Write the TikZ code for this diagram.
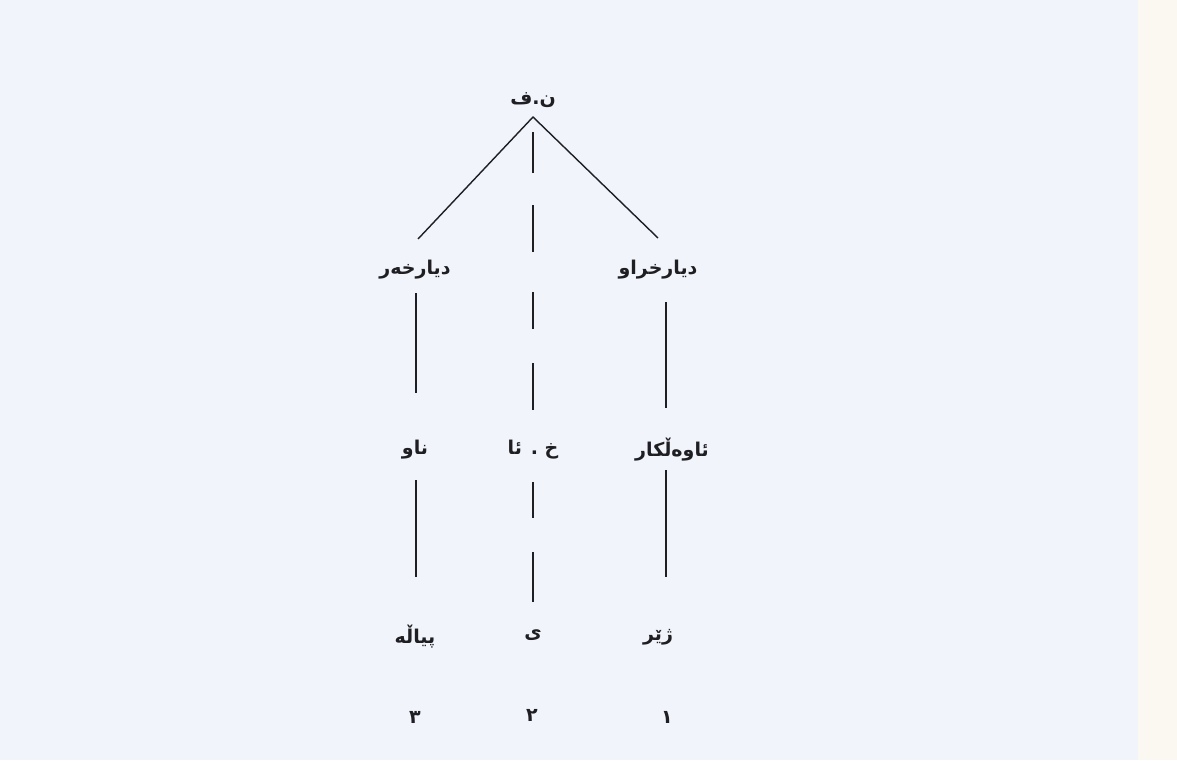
\documentclass[tikz,border=0pt]{standalone}
\usepackage{fontspec}
\newfontfamily\arabicfont[Script=Arabic]{DejaVu Sans}
\TeXXeTstate=1
\definecolor{bgblue}{RGB}{241,244,251}
\definecolor{cream}{RGB}{250,248,240}
\definecolor{ink}{RGB}{30,30,35}
\begin{document}
\begin{tikzpicture}[x=1pt,y=-1pt,
  lbl/.style={font=\arabicfont\bfseries\fontsize{19}{22}\selectfont, inner sep=0pt, text=ink},
  ln/.style={line width=1.4pt, draw=ink}]
\fill[bgblue] (0,0) rectangle (1177,760);
\fill[cream] (1138,0) rectangle (1177,760);
\useasboundingbox (0,0) rectangle (1177,760);

% nodes
\node[lbl] (fn) at (533,100) {\beginR ن.ف\endR};
\node[lbl] (dkhr) at (415,270) {\beginR دیارخەر\endR};
\node[lbl] (dkhraw) at (658,270) {\beginR دیارخراو\endR};
\node[lbl] (naw) at (415,450) {\beginR ناو\endR};
\node[lbl] (akh) at (533,450) {\beginR خ . ئا\endR};
\node[lbl] (awelkar) at (672,450) {\beginR ئاوەڵکار\endR};
\node[lbl] (piyale) at (415,637) {\beginR پیاڵە\endR};
\node[lbl] (ye) at (533,635) {\beginR ی\endR};
\node[lbl] (zher) at (658,637) {\beginR ژێر\endR};
\node[lbl] (n3) at (415,717) {\beginR ٣\endR};
\node[lbl] (n2) at (532,715) {\beginR ٢\endR};
\node[lbl] (n1) at (667,717) {\beginR ١\endR};

% connector ends
\coordinate (apex) at (533,117);
\coordinate (lend) at (418,239);
\coordinate (rend) at (658,238);
\coordinate (l1t) at (416,293);
\coordinate (l1b) at (416,393);
\coordinate (l2t) at (416,480);
\coordinate (l2b) at (416,577);
\coordinate (r1t) at (666,302);
\coordinate (r1b) at (666,408);
\coordinate (r2t) at (666,470);
\coordinate (r2b) at (666,577);
\coordinate (m1t) at (533,132);
\coordinate (m1b) at (533,410);
\coordinate (m2t) at (533,482);
\coordinate (m2b) at (533,602);

% connectors
\draw[ln] (lend) -- (apex) -- (rend);
\draw[ln] (l1t) -- (l1b);
\draw[ln] (l2t) -- (l2b);
\draw[ln] (r1t) -- (r1b);
\draw[ln] (r2t) -- (r2b);
\draw[ln, dash pattern=on 41pt off 32pt on 47pt off 40pt on 37pt off 34pt on 47pt off 100pt] (m1t) -- (m1b);
\draw[ln, dash pattern=on 36pt off 34pt on 50pt off 100pt] (m2t) -- (m2b);
\end{tikzpicture}
\end{document}
